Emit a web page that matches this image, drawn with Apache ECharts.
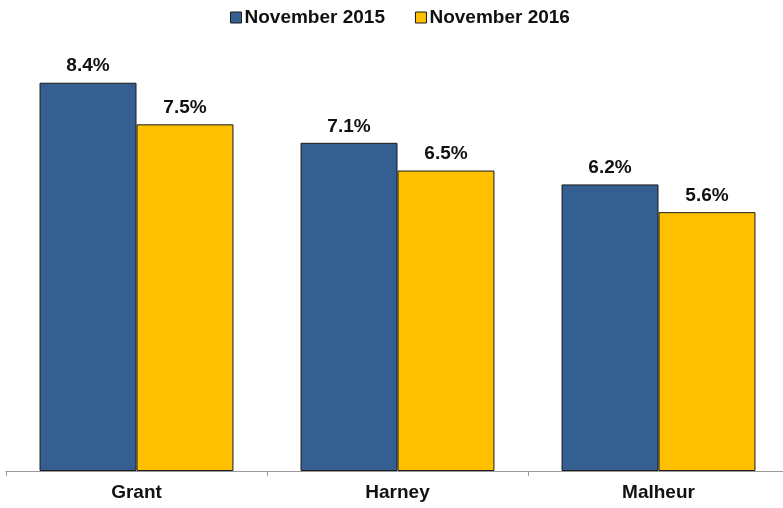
<!DOCTYPE html>
<html>
<head>
<meta charset="utf-8">
<script src="https://cdn.jsdelivr.net/npm/echarts@6/dist/echarts.min.js"></script>
<style>
  html, body { margin: 0; padding: 0; background: #fff; overflow: hidden; }
  #main { width: 789px; height: 508px; }
</style>
</head>
<body>
<div id="main"></div>
<script>
const categories = ['Grant', 'Harney', 'Malheur'];
const seriesNames = ['November 2015', 'November 2016'];
const nov2015 = [8.4, 7.1, 6.2];
const nov2016 = [7.5, 6.5, 5.6];
const colors = ['#365F91', '#FFC000'];

// the axis in the original runs a few pixels past the right edge
const chart = echarts.init(document.getElementById('main'));

function barSeries(name, data, color) {
    return {
        name: name,
        type: 'bar',
        data: data,
        barGap: '0%',
        barCategoryGap: '25.7%',
        itemStyle: { color: color, borderColor: '#1a1a1a', borderWidth: 1 },
        label: {
            show: true,
            position: 'top',
            distance: 7,
            formatter: p => p.value.toFixed(1) + '%',
            fontFamily: 'Liberation Sans, Arial, sans-serif',
            fontWeight: 'bold',
            fontSize: 19,
            color: '#111'
        }
    };
}

chart.setOption({
    animation: false,
    color: colors,
    legend: {
        top: 3,
        left: 225,
        itemWidth: 11,
        itemHeight: 11,
        itemGap: 30,
        icon: 'rect',
        itemStyle: { borderColor: '#1a1a1a', borderWidth: 1 },
        textStyle: {
            fontFamily: 'Liberation Sans, Arial, sans-serif',
            fontWeight: 'bold',
            fontSize: 19,
            color: '#111',
            padding: [0, 0, 0, -2]
        },
        data: seriesNames
    },
    grid: { left: 6, right: 0, top: 55, bottom: 37 },
    xAxis: {
        type: 'category',
        data: categories,
        axisLine: { lineStyle: { color: '#999', width: 1 } },
        axisTick: { show: true, length: 5, lineStyle: { color: '#999' } },
        axisLabel: {
            margin: 12,
            fontFamily: 'Liberation Sans, Arial, sans-serif',
            fontWeight: 'bold',
            fontSize: 19,
            color: '#111'
        }
    },
    yAxis: {
        type: 'value',
        min: 0,
        max: 9,
        show: false,
        splitLine: { show: false }
    },
    series: [
        barSeries(seriesNames[0], nov2015, colors[0]),
        barSeries(seriesNames[1], nov2016, colors[1])
    ]
});
</script>
</body>
</html>
